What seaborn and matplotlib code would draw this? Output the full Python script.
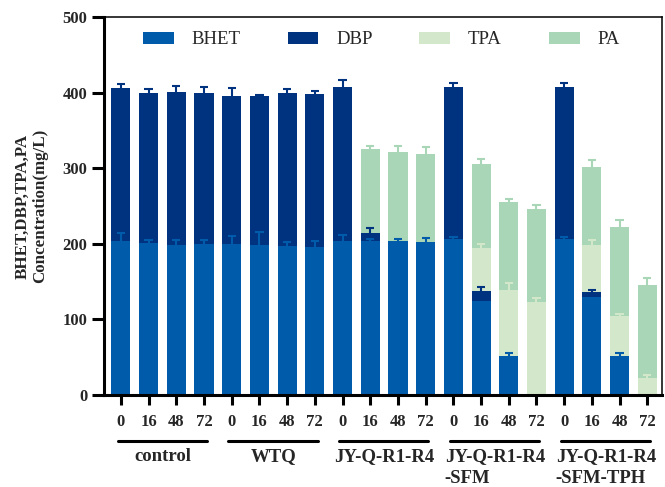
import numpy as np
import pandas as pd
import matplotlib
matplotlib.use("Agg")
import matplotlib.pyplot as plt
import seaborn as sns
from matplotlib.patches import Patch
from matplotlib.lines import Line2D

# Data (mg/L); each list is one stacked segment
groups = ['control', 'WTQ', 'JY-Q-R1-R4', 'JY-Q-R1-R4\n-SFM', 'JY-Q-R1-R4\n-SFM-TPH']
times = ['0', '16', '48', '72']

bhet = [204, 201, 198, 200, 200, 198, 197, 196, 204, 204, 204, 202,
        206, 125, 52, 0, 206, 130, 52, 0]
dbp = [202, 199, 203, 199, 196, 198, 203, 202, 204, 10, 0, 0,
       201, 12, 0, 0, 201, 6, 0, 0]
tpa = [0, 0, 0, 0, 0, 0, 0, 0, 0, 0, 0, 0,
       0, 57, 87, 123, 0, 63, 52, 23]
pa = [0, 0, 0, 0, 0, 0, 0, 0, 0, 111, 117, 117,
      0, 112, 116, 123, 0, 103, 118, 123]

bhet_err = [10, 4.4, 6.6, 5.7, 11, 18, 6, 8, 8, 3, 2.2, 5.7,
            2.6, 0, 3.5, 0, 2.6, 0, 3.5, 0]
dbp_err = [5.7, 4.4, 8, 8.4, 10, 1.3, 4.4, 4.8, 8.8, 6.6, 0, 0,
           5.3, 5.3, 0, 0, 5.3, 3, 0, 0]
tpa_err = [0, 0, 0, 0, 0, 0, 0, 0, 0, 0, 0, 0,
           0, 5.3, 8.8, 5.3, 0, 5.7, 3.5, 3]
pa_err = [0, 0, 0, 0, 0, 0, 0, 0, 0, 4, 8.8, 8.8,
          0, 6, 4.4, 5.7, 0, 9, 10, 8.5]

colors = {'BHET': '#005BAA', 'DBP': '#00337F', 'TPA': '#D3E7CB', 'PA': '#A9D6B6'}

# build table
bars = [f'{g}|{t}' for g in groups for t in times]
df = pd.DataFrame({'bar': bars, 'BHET': bhet, 'DBP': dbp, 'TPA': tpa, 'PA': pa})
layers = ['BHET', 'DBP', 'TPA', 'PA']
errs = {'BHET': bhet_err, 'DBP': dbp_err, 'TPA': tpa_err, 'PA': pa_err}
cum = df[layers].cumsum(axis=1)

sns.set_style('ticks')
plt.rcParams['font.family'] = ['Liberation Serif', 'DejaVu Serif']

fig = plt.figure(figsize=(6.65, 4.87), dpi=100)
ax = fig.add_axes([0.1564, 0.1889, 0.8391, 0.7761])

# stacked bars: draw cumulative tops from the highest layer down
for name in layers[::-1]:
    sns.barplot(x=df['bar'], y=cum[name], color=colors[name], order=bars,
                width=0.69, saturation=1, errorbar=None, linewidth=0, ax=ax)

# one-sided error bars on top of every segment
x = np.arange(len(bars))
for name in layers:
    seg = df[name].values
    top = cum[name].values
    e = np.array(errs[name])
    m = (seg > 0) & (e > 0)
    ax.vlines(x[m], top[m], top[m] + e[m], color=colors[name], lw=1.5, zorder=5)
    ax.hlines(top[m] + e[m], x[m] - 0.15, x[m] + 0.15, color=colors[name], lw=1.5, zorder=5)

ax.set_xlim(-0.61, 19.53)
ax.set_ylim(0, 500)
ax.set_yticks([0, 100, 200, 300, 400, 500])
ax.set_xticks(x)
ax.set_xticklabels(times * len(groups))
ax.set_xlabel('')
ax.set_ylabel('BHET,DBP,TPA,PA\nConcentration(mg/L)', fontsize=12.2, fontweight='bold',
              linespacing=1.15, labelpad=10)

for lab in ax.get_xticklabels() + ax.get_yticklabels():
    lab.set_fontweight('bold')
    lab.set_fontsize(12)
ax.tick_params(axis='x', length=7.5, width=2.2, pad=6, color='black')
ax.tick_params(axis='y', length=9, width=2.2, pad=3, color='black')

for side in ['left', 'bottom']:
    ax.spines[side].set_linewidth(2.2)
for side in ['top', 'right']:
    ax.spines[side].set_linewidth(1.1)
    ax.spines[side].set_visible(True)
for s in ax.spines.values():
    s.set_color('black')

# group lines and labels under the ticks
tr = ax.get_xaxis_transform()
for i, g in enumerate(groups):
    x0 = i * 4
    ax.add_line(Line2D([x0 - 0.12, x0 + 3.1], [-0.122, -0.122], transform=tr,
                       color='black', lw=2.2, clip_on=False))
    ax.text(x0 + 1.5, -0.14, g, transform=tr, ha='center', va='top',
            multialignment='left', fontsize=13.5, fontweight='bold', linespacing=1.38)

handles = [Patch(facecolor=colors[n], edgecolor='none', label=n) for n in layers]
ax.legend(handles=handles, ncol=4, loc='center left', bbox_to_anchor=(0.07, 0.94),
          frameon=False, fontsize=13.5, handlelength=1.65, handleheight=0.59,
          handletextpad=0.94, columnspacing=2.5, borderpad=0, borderaxespad=0)

fig.savefig('out.png', dpi=100)
